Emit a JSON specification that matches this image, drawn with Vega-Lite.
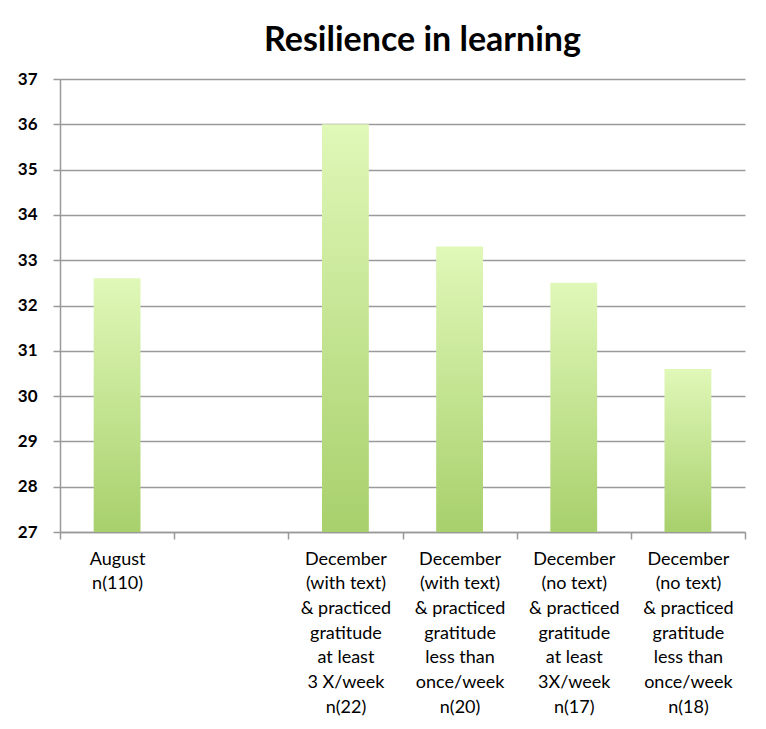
{
  "$schema": "https://vega.github.io/schema/vega-lite/v6.json",
  "autosize": "none",
  "width": 685,
  "height": 453,
  "padding": {"left": 60, "top": 79, "right": 21, "bottom": 197},
  "background": "white",
  "title": {
    "text": "Resilience in learning",
    "font": "Lato",
    "fontSize": 34,
    "fontWeight": "bold",
    "color": "black",
    "anchor": "middle",
    "offset": 12,
    "dx": 20
  },
  "data": {
    "values": [
      {"group": "August|n(110)", "score": 32.6},
      {"group": "December|(with text)|& practiced|gratitude|at least|3 X/week|n(22)", "score": 36.0},
      {"group": "December|(with text)|& practiced|gratitude|less than|once/week|n(20)", "score": 33.3},
      {"group": "December|(no text)|& practiced|gratitude|at least|3X/week|n(17)", "score": 32.5},
      {"group": "December|(no text)|& practiced|gratitude|less than|once/week|n(18)", "score": 30.6}
    ]
  },
  "mark": {
    "type": "bar",
    "width": {"band": 0.41},
    "color": {
      "gradient": "linear",
      "x1": 0, "y1": 0, "x2": 0, "y2": 1,
      "stops": [
        {"offset": 0, "color": "#e0f8b8"},
        {"offset": 1, "color": "#a8d06c"}
      ]
    }
  },
  "encoding": {
    "x": {
      "field": "group",
      "type": "nominal",
      "sort": null,
      "scale": {
        "domain": [
          "August|n(110)",
          " ",
          "December|(with text)|& practiced|gratitude|at least|3 X/week|n(22)",
          "December|(with text)|& practiced|gratitude|less than|once/week|n(20)",
          "December|(no text)|& practiced|gratitude|at least|3X/week|n(17)",
          "December|(no text)|& practiced|gratitude|less than|once/week|n(18)"
        ],
        "paddingInner": 0,
        "paddingOuter": 0
      },
      "axis": {
        "title": null,
        "labelExpr": "split(datum.label, '|')",
        "labelAngle": 0,
        "labelFont": "Lato",
        "labelFontSize": 18,
        "labelLineHeight": 24.7,
        "labelColor": "black",
        "labelPadding": 11,
        "labelBaseline": "top",
        "tickBand": "extent",
        "tickColor": "#999999",
        "tickSize": 7,
        "tickWidth": 1.5,
        "domainColor": "#999999",
        "domainWidth": 1.5,
        "grid": false,
        "labelLimit": 0
      }
    },
    "y": {
      "field": "score",
      "type": "quantitative",
      "scale": {"domain": [27, 37], "zero": false, "nice": false},
      "axis": {
        "title": null,
        "values": [27, 28, 29, 30, 31, 32, 33, 34, 35, 36, 37],
        "labelFont": "Lato",
        "labelFontSize": 17,
        "labelFontWeight": "bold",
        "labelColor": "black",
        "labelPadding": 16,
        "tickColor": "#999999",
        "tickSize": 7,
        "tickWidth": 1.5,
        "domainColor": "#999999",
        "domainWidth": 1.5,
        "gridColor": "#9a9a9a",
        "gridWidth": 1.5
      }
    },
    "y2": {"datum": 27}
  },
  "config": {"view": {"stroke": null}}
}
